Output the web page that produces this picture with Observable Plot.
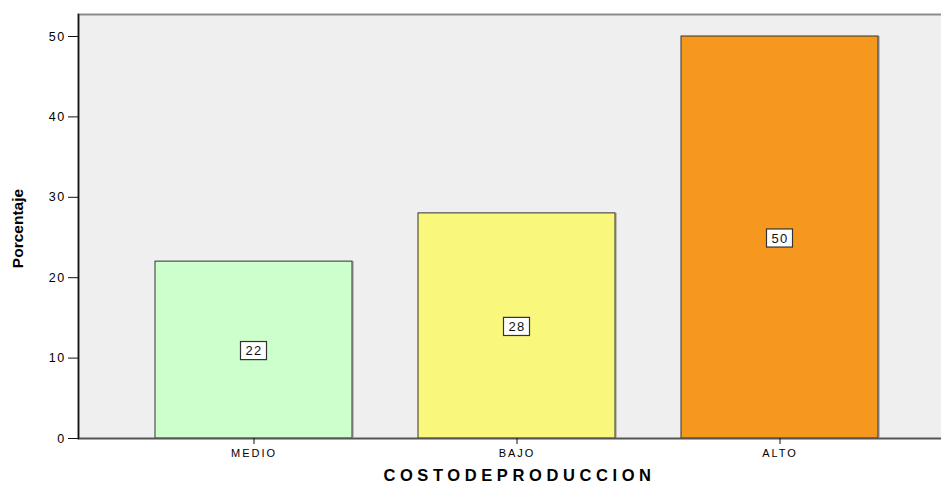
<!DOCTYPE html>
<html><head><meta charset="utf-8">
<script src="https://cdn.jsdelivr.net/npm/d3@7"></script>
<script src="https://cdn.jsdelivr.net/npm/@observablehq/plot@0.6"></script>
<style>
body{margin:0;background:#fff;overflow:hidden}
g[aria-label="y-axis tick label"] text{letter-spacing:1.4px}
g[aria-label="x-axis tick label"] text{letter-spacing:2px}
.vlabel text{letter-spacing:1.4px}
.xtitle text{letter-spacing:4.6px}
</style>
</head><body><div id="chart"></div>
<script>
const categories = ["MEDIO", "BAJO", "ALTO"];
const values = [22, 28, 50];
const colors = ["#ccffcc", "#f9f77c", "#f7981e"];
const yTicks = [0, 10, 20, 30, 40, 50];
const yLabel = "Porcentaje";
const xLabel = "COSTODEPRODUCCION";

const data = categories.map((c, i) => ({cat: c, value: values[i]}));

const plot = Plot.plot({
  width: 941, height: 483,
  marginLeft: 78, marginRight: -13, marginTop: 14, marginBottom: 45,
  style: {fontFamily: "'Liberation Sans', Arial, sans-serif", fontSize: "12px", color: "#000", background: "#fff"},
  x: {domain: categories, paddingInner: 0.252, paddingOuter: 0.288, label: null},
  y: {domain: [0, 50], range: [438, 36], label: null},
  color: {domain: categories, range: colors},
  marks: [
    Plot.frame({fill: "#efefef", stroke: "#8c8c8c", strokeWidth: 2}),
    Plot.barY(data, {x: "cat", y: "value", dx: 2, fill: "#bdbdbd"}),
    Plot.barY(data, {x: "cat", y: "value", fill: "cat", stroke: "#333", strokeWidth: 1}),
    Plot.barY(data, {x: "cat", y1: d => d.value / 2 - 1.25, y2: d => d.value / 2 + 1.0,
      insetLeft: 85.5, insetRight: 85.5, fill: "#fff", stroke: "#333", strokeWidth: 1.2}),
    Plot.text(data, {x: "cat", y: d => d.value / 2, dy: 1, text: d => String(d.value),
      fontSize: 13, fill: "#111", className: "vlabel"}),
    Plot.ruleY([0], {stroke: "#555", strokeWidth: 1.5}),
    Plot.frame({anchor: "left", stroke: "#111", strokeWidth: 1.5}),
    Plot.axisY({ticks: yTicks, tickSize: 10, tickPadding: 3, label: null, fontSize: 12.5, stroke: "#111"}),
    Plot.axisX({tickSize: 6, tickPadding: 5, label: null, fontSize: 11, stroke: "#111"}),
    Plot.text([yLabel], {frameAnchor: "left", text: d => d, rotate: -90, dx: -60, dy: 2,
      textAnchor: "middle", fontWeight: "bold", fontSize: 15.5}),
    Plot.text([xLabel], {frameAnchor: "bottom", text: d => d, dy: 42.5, dx: 3,
      fontWeight: "bold", fontSize: 16.5, className: "xtitle"})
  ]
});
document.getElementById("chart").appendChild(plot);
</script>
</body></html>
